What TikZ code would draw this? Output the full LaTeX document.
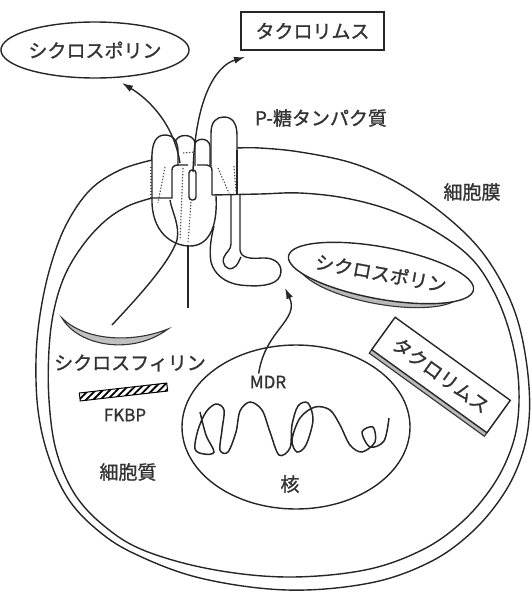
\documentclass[tikz,border=0pt]{standalone}
\usepackage{fontspec}
\newfontfamily\jp[FakeBold=1.2]{Noto Sans CJK JP}
\usetikzlibrary{arrows.meta,shapes.geometric,patterns.meta}
\begin{document}
\begin{tikzpicture}[x=1pt,y=-1pt,
  ink/.style={line width=1.4pt,draw=black!85},
  lbl/.style={font=\jp\fontsize{19}{21}\selectfont,inner sep=0pt,text=black!80},
  smalllbl/.style={font=\jp\fontsize{17}{19}\selectfont,inner sep=0pt,text=black!80},
  hidden/.style={line width=1.1pt,draw=black!70,dash pattern=on 1.3pt off 1.7pt},
  tip/.style={-{Latex[length=11pt,width=7pt]}},
  shade/.style={fill=gray!55,line width=1.1pt,draw=black!80},
]
\useasboundingbox (0,0) rectangle (532,592);

% ---------- cell membrane (double line, interrupted by the pump) ----------
\draw[ink] plot[smooth,tension=0.6] coordinates {
  (152,160) (120,170) (90,190) (66,225) (50,268) (40,315) (36,360) (38,410)
  (48,455) (67,497) (95,528) (133,553) (200,578) (287,590) (370,583) (430,562)
  (472,532) (503,495) (521,458) (529,420) (528,375) (519,325) (503,285)
  (478,247) (442,213) (398,183) (352,163) (300,152) (260,148) (237,148)};
\draw[ink] plot[smooth,tension=0.6] coordinates {
  (152,198) (128,206) (105,221) (83,245) (65,275) (54,310) (49,350) (49,400)
  (56,450) (74,493) (103,525) (143,550) (210,569) (287,577) (365,570) (422,550)
  (462,522) (492,487) (510,452) (518,418) (518,375) (509,330) (493,290)
  (470,257) (433,230) (390,210) (345,198) (300,193) (260,194) (212,195)};

% ---------- P-glycoprotein ----------
% extracellular loops, back to front
\draw[ink,fill=white] (194,166) -- (194,146) .. controls (195,137) and (209,137) .. (210,146) -- (210,166);
\draw[ink,fill=white] (175,166) -- (175,143) .. controls (176,133) and (194,133) .. (195,143) -- (195,166);
\draw[ink,fill=white] (152,163) .. controls (151,141) and (157,135) .. (165,135)
  .. controls (174,135) and (178,142) .. (178,152) -- (178,165);
\draw[ink,fill=white] (211,166) -- (211,133) .. controls (211,121) and (217,117) .. (224,117)
  .. controls (232,117) and (237,123) .. (237,135) -- (237,150);
% transmembrane blocks
\draw[ink] (152,163) -- (152,198) -- (172,198) -- (172,170) .. controls (172,166) and (175,165) .. (179,165) -- (188,165);
\draw[ink,rounded corners=3pt] (189,170) rectangle (196,200);
\draw[ink] (197,165) -- (207,165) .. controls (210,165) and (212,167) .. (212,171) -- (212,195);
\draw[ink] (237,150) -- (237,195);
\draw[hidden] (151,167) -- (151,200);
\draw[hidden] (165,167) -- (158,203);
\draw[hidden] (183,168) -- (180,240);
\draw[hidden] (191,202) -- (188,243);
\draw[hidden] (218,168) -- (229,193);
\draw[hidden] (234,166) -- (236,192);
\draw[hidden] (183,153) -- (195,152);
% cytoplasmic bowl
\draw[ink] (152,198) .. controls (151,232) and (172,246) .. (190,246)
  .. controls (207,246) and (218,230) .. (216,196);
% C-terminal tail and nucleotide binding domain
\draw[ink] (240,195) -- (240,250) .. controls (241,258) and (250,259) .. (262,258)
  .. controls (276,257) and (284,266) .. (280,276) .. controls (276,286) and (258,287) .. (240,285)
  .. controls (225,283) and (214,274) .. (211,262) .. controls (209,250) and (211,238) .. (214,226);
\draw[ink] (231,195) -- (231,244) .. controls (231,250) and (226,252) .. (224,257)
  .. controls (221,264) and (227,271) .. (233,268) .. controls (238,266) and (239,260) .. (241,257);

% ---------- drug paths ----------
\coordinate (cypStart) at (112,325);
\coordinate (outL) at (180,163);
\coordinate (outR) at (193,172);
\coordinate (fkStart) at (188,308);
\coordinate (csIn) at (122,83);
\coordinate (tcIn) at (245,57);
\draw[ink] (cypStart) .. controls (140,295) and (170,262) .. (177,240)
  .. controls (180,225) and (172,212) .. (170,200);
\draw[ink] (fkStart) -- (188,246);
\draw[ink,tip] (outL) .. controls (174,125) and (150,100) .. (csIn);
\draw[ink,tip] (outR) .. controls (195,100) and (215,66) .. (tcIn);

% ---------- drugs outside the cell ----------
\node[ellipse,draw,ink,lbl,minimum width=170pt,minimum height=56pt] (cs1) at (95,50) {シクロスポリン};
\node[draw,ink,lbl,minimum width=143pt,minimum height=38pt] (tc1) at (312.5,31) {タクロリムス};

% ---------- drugs inside the cell (with thickness) ----------
\node[ellipse,shade,minimum width=166pt,minimum height=52pt,inner sep=0pt,rotate=-10.4] at (380,278) {};
\node[ellipse,draw,ink,fill=white,lbl,minimum width=166pt,minimum height=52pt,rotate=-10.4] (cs2) at (381,273) {シクロスポリン};
\node[rectangle,shade,minimum width=142pt,minimum height=40pt,inner sep=0pt,rotate=-35.8] at (438.5,378.5) {};
\node[rectangle,draw,ink,fill=white,lbl,minimum width=142pt,minimum height=40pt,rotate=-35.8] (tc2) at (441,375) {タクロリムス};

% ---------- cyclophilin and FKBP ----------
\draw[line width=1.1pt,draw=black!80,fill=gray!50] (62,318) .. controls (78,346) and (132,356) .. (168,329)
  .. controls (130,344) and (84,340) .. cycle;
\node[lbl] (cyp) at (130,363) {シクロスフィリン};
\node[draw,line width=1pt,minimum width=88pt,minimum height=8pt,inner sep=0pt,rotate=6.5,
  pattern={Lines[angle=45,distance=5pt,line width=1.8pt]}] (fkbar) at (123.5,392) {};
\node[smalllbl] (fk) at (125,415) {FKBP};

% ---------- nucleus ----------
\node[ellipse,draw,ink,minimum width=228pt,minimum height=164pt,inner sep=0pt] (nucleus) at (296,427) {};
% chromatin strand
\draw[ink,line width=1.5pt] plot[smooth,tension=0.55] coordinates {
  (200,412) (206,435) (214,452) (204,454) (195,449) (198,430) (206,412) (216,404)
  (224,410) (222,430) (220,450) (228,452) (236,432) (240,411) (250,402) (262,410)
  (270,432) (279,455) (290,448) (292,425) (298,406) (308,403) (313,420) (306,445)
  (297,452) (292,440) (300,418) (315,407) (330,410) (340,425) (350,445) (362,452)
  (375,442) (373,427) (362,432) (370,447) (384,441) (389,418)};
\node[smalllbl] (mdr) at (268,382) {MDR};
\node[lbl] (nuc) at (290,484) {核};
\draw[ink,tip] (mdr.north west) ++(9,-2) .. controls (265,330) and (300,320) .. (285,288);

% ---------- labels ----------
\node[lbl] (pgp) at (321,118) {P-糖タンパク質};
\node[lbl] (mem) at (472,192) {細胞膜};
\node[lbl] (cyto) at (128,472) {細胞質};
\end{tikzpicture}
\end{document}
